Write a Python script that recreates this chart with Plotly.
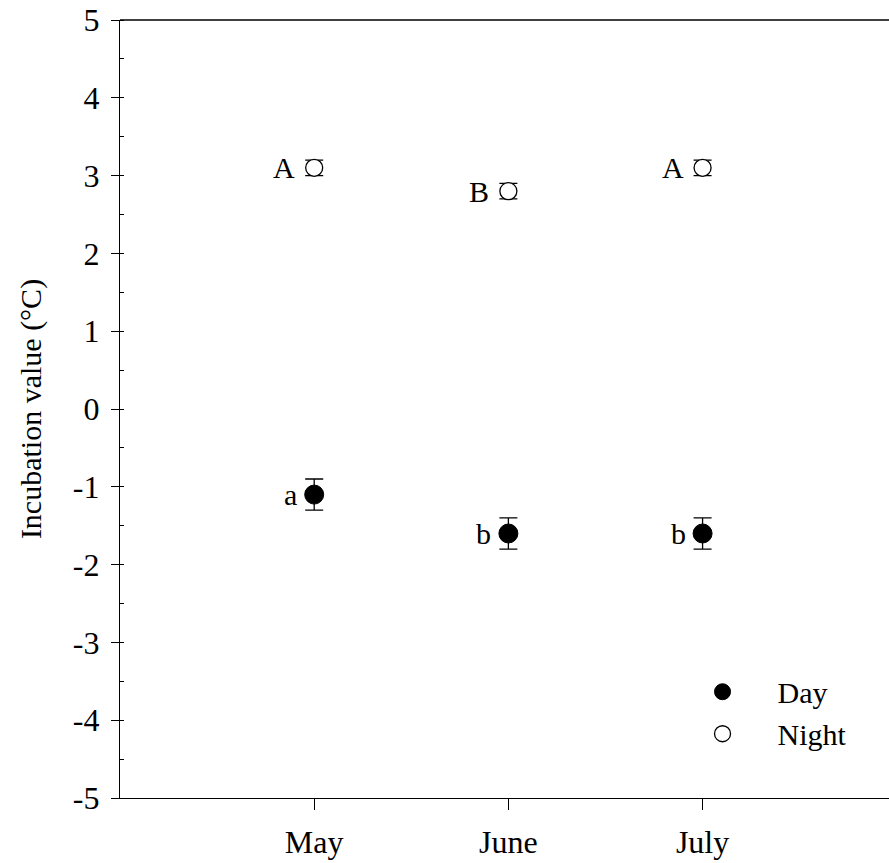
import plotly.graph_objects as go

months = ["May", "June", "July"]
day_vals = [-1.1, -1.6, -1.6]
day_err = [0.2, 0.2, 0.2]
night_vals = [3.1, 2.8, 3.1]
night_err = [0.1, 0.1, 0.1]
day_letters = ["a", "b", "b"]
night_letters = ["A", "B", "A"]
y_ticks = [-5, -4, -3, -2, -1, 0, 1, 2, 3, 4, 5]

FONT = "Liberation Serif, Times New Roman, serif"
FS = 30
TFS = 32

fig = go.Figure()
fig.add_trace(go.Scatter(
    x=months, y=day_vals, mode="markers", name="Day",
    marker=dict(symbol="circle", size=19, color="black", line=dict(color="black", width=1)),
    error_y=dict(type="data", array=day_err, visible=True, color="black", thickness=1.3, width=9),
))
fig.add_trace(go.Scatter(
    x=months, y=night_vals, mode="markers", name="Night",
    marker=dict(symbol="circle", size=17, color="white", line=dict(color="black", width=1.3)),
    error_y=dict(type="data", array=night_err, visible=True, color="black", thickness=1.3, width=9),
))

for m, v, t in zip(months, day_vals, day_letters):
    fig.add_annotation(x=m, y=v, text=t, showarrow=False, xanchor="right", yanchor="middle",
                       xshift=-15, font=dict(family=FONT, size=FS, color="black"))
for m, v, t in zip(months, night_vals, night_letters):
    fig.add_annotation(x=m, y=v, text=t, showarrow=False, xanchor="right", yanchor="middle",
                       xshift=-17, font=dict(family=FONT, size=FS, color="black"))

# top frame line (no right frame line in the reference)
fig.add_shape(type="line", xref="paper", yref="paper", x0=0, x1=1, y0=1, y1=1,
              line=dict(color="black", width=1.3))

fig.update_layout(
    width=889, height=863,
    margin=dict(l=120, r=0, t=20, b=65),
    paper_bgcolor="white", plot_bgcolor="white",
    font=dict(family=FONT, size=FS, color="black"),
    showlegend=True,
    legend=dict(x=0.712, y=0.17, xanchor="left", yanchor="top", bgcolor="rgba(0,0,0,0)",
                font=dict(family=FONT, size=FS, color="black"), itemwidth=100, tracegroupgap=0),
    xaxis=dict(
        type="category", range=[-1, 2.96], showgrid=False, zeroline=False, automargin=False,
        showline=True, linecolor="black", linewidth=1.3, mirror=False,
        ticks="outside", ticklen=11, tickwidth=1.3, tickcolor="black",
        tickfont=dict(family=FONT, size=TFS), ticklabelstandoff=4,
    ),
    yaxis=dict(
        range=[-5, 5], showgrid=False, zeroline=False, automargin=False,
        showline=True, linecolor="black", linewidth=1.3,
        tickmode="array", tickvals=y_ticks, ticktext=[str(v) for v in y_ticks],
        ticks="outside", ticklen=8, tickwidth=1.3, tickcolor="black",
        minor=dict(ticks="inside", ticklen=4, dtick=0.5, tick0=0, tickwidth=1.3, tickcolor="black", showgrid=False),
        tickfont=dict(family=FONT, size=TFS), ticklabelstandoff=5,
        title=dict(text="Incubation value (°C)", font=dict(family=FONT, size=FS), standoff=22),
    ),
)

fig.write_html("out.html", config={"displayModeBar": False})
